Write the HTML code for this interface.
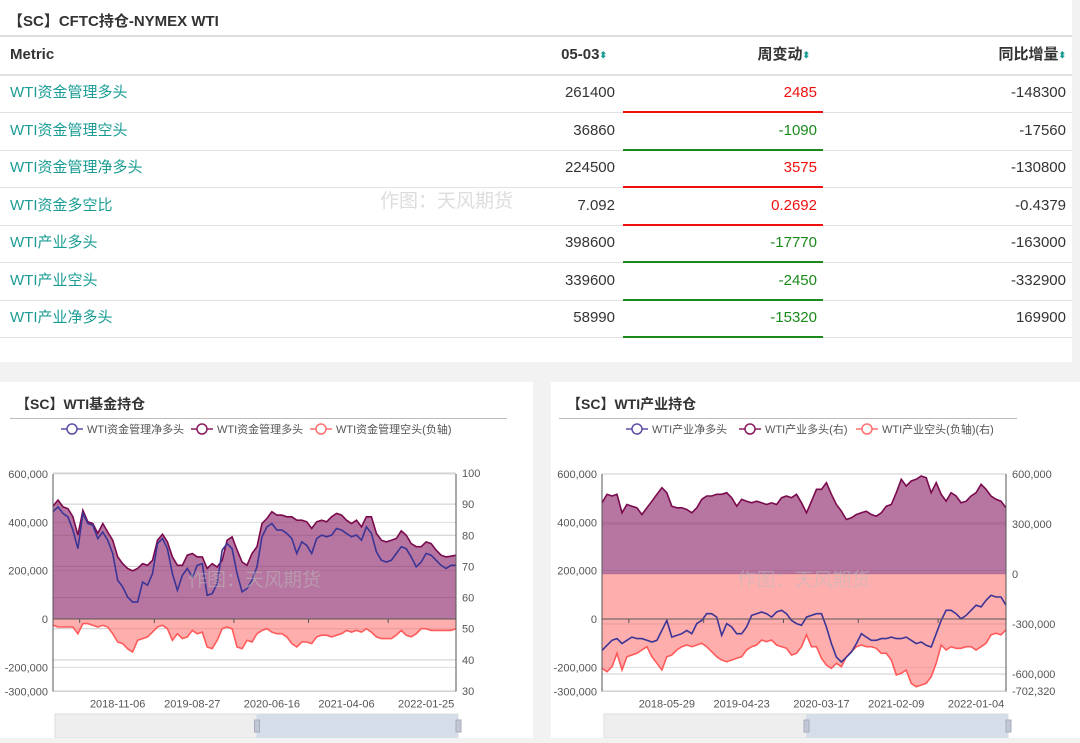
<!DOCTYPE html>
<html><head><meta charset="utf-8">
<style>
body{margin:0;width:1080px;height:738px;background:#f2f2f2;font-family:"Liberation Sans","Noto Sans CJK SC",sans-serif;overflow:hidden;position:relative}
.abs{position:absolute}
#top{left:0;top:0;width:1072px;height:362px;background:#fff}
.row{position:absolute;left:0;width:1072px;height:37px;border-bottom:1px solid #e2e2e2;font-size:15px;color:#333}
.row span{position:absolute;top:9px;line-height:18px;height:18px;white-space:nowrap}
.row span b{font-size:9px;line-height:18px;vertical-align:top;color:#1a9c94}
.m{left:10px;color:#1a9c94}
.c2{right:457px}.c3{right:255px}.c4{right:6px}
.ul{position:absolute;left:623px;width:200px;height:2px;bottom:-1px}
.panel{background:#fff;top:382px;height:356px}
</style></head><body>
<div id="top" class="abs">
<div class="abs" style="left:8px;top:10px;font-size:15px;font-weight:bold;color:#333">【SC】CFTC持仓-NYMEX WTI</div>
<div class="abs" style="left:0;top:35px;width:1072px;height:2px;background:#ddd"></div>
<div class="row" style="top:37px;font-weight:bold;border-bottom:2px solid #e2e2e2">
<span style="left:10px">Metric</span>
<span style="right:465px">05-03<b>⬍</b></span>
<span style="right:262px">周变动<b>⬍</b></span>
<span style="right:6px">同比增量<b>⬍</b></span>
</div>
<div id="rows"></div>
<div class="abs" style="left:300px;top:186px;font-size:19px;color:#ddd"><span style="margin-left:80px">作图：天风期货</span></div>
</div>
<div class="abs panel" style="left:0;width:533px"><svg id="c1" width="533" height="356"></svg></div>
<div class="abs panel" style="left:551px;width:529px"><svg id="c2" width="529" height="356"></svg></div>
<script>
const rowMetrics=["WTI资金管理多头","WTI资金管理空头","WTI资金管理净多头","WTI资金多空比","WTI产业多头","WTI产业空头","WTI产业净多头"];
const rowLatest=["261400","36860","224500","7.092","398600","339600","58990"];
const rowWeek=["2485","-1090","3575","0.2692","-17770","-2450","-15320"];
const rowYoy=["-148300","-17560","-130800","-0.4379","-163000","-332900","169900"];
const rc=document.getElementById('rows');
rowMetrics.forEach((m,i)=>{
 const r=document.createElement('div');r.className='row';r.style.top=(75+i*37.5)+'px';
 
 
 const col=rowWeek[i].startsWith('-')?'#1a8a1a':'#f01010';
 r.innerHTML=`<span class="m">${m}</span><span class="c2">${rowLatest[i]}</span><span class="c3" style="color:${col}">${rowWeek[i]}</span><span class="c4">${rowYoy[i]}</span><div class="ul" style="background:${col}"></div>`;
 rc.appendChild(r);
});

const c1Long=[467,492,464,457,423,347,450,402,395,354,395,360,326,257,229,209,199,209,229,222,243,326,351,319,257,222,222,264,271,257,257,209,229,215,243,326,340,285,236,222,271,299,395,416,444,430,430,423,423,409,409,402,375,402,409,402,423,437,430,409,395,409,381,423,423,354,326,319,326,333,365,347,312,299,299,319,312,285,264,257,260,264];
const c1Net=[444,464,437,423,368,291,437,395,388,333,360,326,271,160,133,91,70,70,153,140,188,312,333,291,188,119,181,209,174,222,229,98,105,147,285,312,291,188,112,126,160,216,340,381,395,368,368,354,333,271,319,305,271,333,347,340,347,375,368,354,340,347,326,381,354,278,243,236,243,271,299,291,257,216,236,271,264,243,222,209,222,222];
const c1Short=[-26,-33,-33,-33,-33,-61,-19,-19,-26,-33,-26,-33,-61,-95,-102,-123,-137,-88,-81,-74,-54,-33,-26,-40,-88,-61,-81,-74,-47,-61,-54,-116,-123,-88,-40,-33,-40,-116,-123,-88,-95,-61,-47,-40,-54,-61,-61,-74,-102,-116,-95,-95,-102,-74,-67,-67,-74,-67,-61,-47,-54,-47,-54,-40,-54,-74,-81,-81,-81,-67,-47,-67,-74,-61,-40,-40,-47,-47,-47,-47,-47,-40];
const c1Ticks=["2018-11-06","2019-08-27","2020-06-16","2021-04-06","2022-01-25"];
const c1TickIdx=[13,28,44,59,75];
const c1LeftTicks=[600000,400000,200000,0,-200000,-300000];
const c1RightTicks=[100,90,80,70,60,50,40,30];
const c2Long=[427,478,468,478,367,417,407,397,357,397,437,478,518,488,407,397,397,387,367,397,448,468,468,478,478,488,458,407,448,437,427,437,427,417,427,417,458,468,458,478,427,367,437,508,508,548,478,417,377,327,337,357,367,377,357,347,367,407,417,488,568,528,558,568,588,578,488,548,478,437,488,468,427,437,468,488,538,508,468,448,437,397];
const c2Short=[-566,-586,-556,-476,-576,-496,-486,-476,-456,-436,-496,-536,-576,-496,-486,-456,-436,-426,-436,-426,-416,-436,-466,-496,-516,-526,-516,-506,-496,-456,-436,-426,-396,-406,-396,-426,-436,-446,-486,-476,-436,-365,-436,-436,-506,-546,-566,-536,-556,-496,-466,-436,-426,-436,-436,-446,-476,-476,-516,-606,-596,-576,-656,-676,-666,-656,-616,-536,-426,-456,-436,-446,-446,-436,-436,-456,-436,-416,-365,-355,-365,-335];
const c2Net=[-130,-109,-88,-81,-102,-88,-75,-81,-81,-88,-95,-88,-47,-6,-75,-68,-61,-47,-61,-19,-6,22,22,8,-68,-19,-33,-61,-61,-33,15,22,29,22,8,29,36,22,-6,-19,-26,8,15,22,22,-33,-102,-158,-178,-158,-137,-102,-61,-75,-88,-88,-81,-81,-75,-81,-81,-75,-88,-102,-95,-109,-116,-61,-6,36,36,22,1,15,36,57,50,77,98,91,91,57];
const c2Ticks=["2018-05-29","2019-04-23","2020-03-17","2021-02-09","2022-01-04"];
const c2TickIdx=[13,28,44,59,75];
const c2LeftTicks=[600000,400000,200000,0,-200000,-300000];
const c2RightTicks=[600000,300000,0,-300000,-600000,-702320];

const NS='http://www.w3.org/2000/svg';
function el(svg,tag,attrs,name,txt){const e=document.createElementNS(NS,tag);for(const k in attrs)e.setAttribute(k,attrs[k]);
 
 
 if(txt!==undefined)e.textContent=txt;svg.appendChild(e);return e;}
const fmt=v=>v.toLocaleString('en-US');

function chart(svg,cfg){
 const {x0,x1,title,legend,lt,rt,yL,yR,labels,lidx,series,lblShift}=cfg;
 const n=series[0].data.length;
 const X=i=>x0+(x1-x0)*i/(n-1);
 el(svg,'text',{x:cfg.tx,y:27,'font-size':14,'font-weight':'bold',fill:'#333'},'chart-title',title);
 el(svg,'line',{x1:cfg.lx0,x2:cfg.lx1,y1:36.5,y2:36.5,stroke:'#bbb'},'title-rule');
 legend.forEach((l,i)=>{const g=l.x;
  el(svg,'line',{x1:g,x2:g+22,y1:47,y2:47,stroke:l.c,'stroke-width':1.5},'legend-line');
  el(svg,'circle',{cx:g+11,cy:47,r:5,fill:'#fff',stroke:l.c,'stroke-width':1.5},'legend-marker');
  el(svg,'text',{x:g+26,y:51,'font-size':11,fill:'#555'},'legend-entry',l.t);});
 lt.forEach(v=>{const y=yL(v);el(svg,'line',{x1:x0,x2:x1,y1:y,y2:y,stroke:'#ddd'},'grid-line');
  el(svg,'text',{x:x0-5,y:y+4,'font-size':11,fill:'#555','text-anchor':'end'},'y-left-tick',fmt(v));});
 rt.forEach(v=>{const y=yR(v);el(svg,'line',{x1:x0,x2:x1,y1:y,y2:y,stroke:'#ccc'},'grid-line-right');
  el(svg,'text',{x:x1+6,y:y+4,'font-size':11,fill:'#555'},'y-right-tick',fmt(v));});
 series.forEach(s=>{
  const pts=s.data.map((v,i)=>[X(i),s.y(v*1000)]);
  const d='M'+pts.map(p=>p[0].toFixed(1)+','+p[1].toFixed(1)).join('L');
  if(s.fill){const b=s.y(0);
   el(svg,'path',{d:d+`L${x1},${b}L${x0},${b}Z`,fill:s.fill,stroke:'none'},s.name+'-area');}
  el(svg,'path',{d:d,fill:'none',stroke:s.c,'stroke-width':s.w||1.6},s.name+'-line');
 });
 const yt=yL(lt[0]),yb=yL(lt[lt.length-1]);
 el(svg,'line',{x1:x0,x2:x0,y1:yt,y2:yb,stroke:'#555'},'y-left-axis');
 el(svg,'line',{x1:x1,x2:x1,y1:yt,y2:yb,stroke:'#555'},'y-right-axis');
 el(svg,'line',{x1:x0,x2:x1,y1:yL(0),y2:yL(0),stroke:'#555'},'x-axis');
 labels.forEach((t,k)=>{const x=X(lidx[k]);
  el(svg,'line',{x1:x-lblShift,x2:x-lblShift,y1:yL(0),y2:yL(0)+4,stroke:'#555'},'x-tick');
  el(svg,'text',{x:x,y:yb+16,'font-size':11,fill:'#555','text-anchor':'middle'},'x-tick-label',t);});
 el(svg,'text',{x:(x0+x1)/2,y:204,'font-size':19,fill:'#bbb','fill-opacity':0.5,'text-anchor':'middle'},'watermark','作图：天风期货');
 const sw=x1-x0;
 el(svg,'rect',{x:x0+2,y:332,width:sw,height:24,fill:'#eee',stroke:'#ddd'},'zoom-slider');
 el(svg,'rect',{x:x0+2+sw/2,y:332,width:sw/2,height:24,fill:'#d5dde8'},'zoom-selected-range');
 el(svg,'rect',{x:x0+sw/2,y:338,width:5,height:12,fill:'#c0c8d5',stroke:'#aab'},'zoom-handle-left');
 el(svg,'rect',{x:x0+sw,y:338,width:5,height:12,fill:'#c0c8d5',stroke:'#aab'},'zoom-handle-right');
}
const c1yL=v=>619-382-(v/600000)*145;
const c1yR=v=>473-382+(100-v)/70*218;
chart(document.getElementById('c1'),{x0:53,x1:456,tx:16,lx0:10,lx1:507,title:'【SC】WTI基金持仓',
 legend:[{x:61,t:'WTI资金管理净多头',c:'#5b4fa8'},{x:191,t:'WTI资金管理多头',c:'#8b1a5e'},{x:310,t:'WTI资金管理空头(负轴)',c:'#ff7070'}],
 lt:c1LeftTicks,rt:c1RightTicks,yL:c1yL,yR:c1yR,labels:c1Ticks,lidx:c1TickIdx,lblShift:38,
 series:[{name:'fund-long',data:c1Long,y:c1yL,c:'#7a0a4e',fill:'rgba(145,45,110,0.65)'},
 {name:'fund-short',data:c1Short,y:c1yL,c:'#ff5a5a',fill:'rgba(255,120,120,0.6)'},
 {name:'fund-net',data:c1Net,y:c1yL,c:'#3b3596'}]});
const c2yL=v=>619-382-(v/600000)*145;
const c2yR=v=>574-382-(v/300000)*50;
chart(document.getElementById('c2'),{x0:51,x1:455,tx:16,lx0:8,lx1:466,title:'【SC】WTI产业持仓',
 legend:[{x:75,t:'WTI产业净多头',c:'#5b4fa8'},{x:188,t:'WTI产业多头(右)',c:'#8b1a5e'},{x:305,t:'WTI产业空头(负轴)(右)',c:'#ff7070'}],
 lt:c2LeftTicks,rt:c2RightTicks,yL:c2yL,yR:c2yR,labels:c2Ticks,lidx:c2TickIdx,lblShift:38,
 series:[{name:'industry-long',data:c2Long,y:c2yR,c:'#7a0a4e',fill:'rgba(145,45,110,0.65)'},
 {name:'industry-short',data:c2Short,y:c2yR,c:'#ff5a5a',fill:'rgba(255,120,120,0.6)'},
 {name:'industry-net',data:c2Net,y:c2yL,c:'#3b3596'}]});
</script>
</body></html>
